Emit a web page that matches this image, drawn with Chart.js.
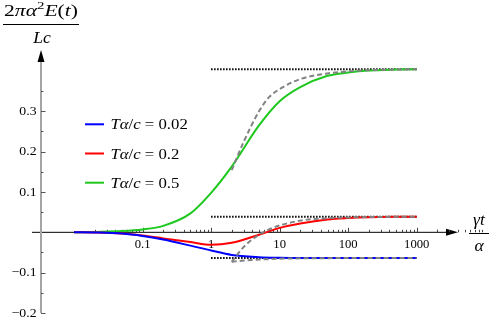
<!DOCTYPE html>
<html lang="en">
<head>
<meta charset="UTF-8">
<title>Energy vs time</title>
<script src="https://cdn.jsdelivr.net/npm/chart.js"></script>
<style>
  body { margin: 0; background: #fff; }
  canvas { display: block; }
</style>
</head>
<body>
<canvas id="energyChart" width="491" height="323"></canvas>
<script>
// gamma t / alpha sample points
const tValues = [0.01, 0.02, 0.05, 0.1, 0.2, 0.5, 1, 2, 5, 10, 20, 50, 100, 200, 500, 1000];
const energyLow  = [0, -0.0005, -0.003, -0.009, -0.018, -0.033, -0.045, -0.056, -0.0615, -0.063, -0.0635, -0.0635, -0.0635, -0.0635, -0.0635, -0.0635];
const energyMid  = [0, -0.0005, -0.003, -0.008, -0.015, -0.024, -0.031, -0.026, -0.006, 0.011, 0.022, 0.032, 0.0355, 0.0375, 0.0385, 0.0387];
const energyHigh = [0, 0.001, 0.003, 0.007, 0.016, 0.047, 0.098, 0.163, 0.265, 0.325, 0.36, 0.388, 0.396, 0.401, 0.4035, 0.4045];

// large time approximations (gray dashed), from t = 2
const tApprox = [2, 3, 5, 7, 10, 20, 50, 100, 200, 500, 1000];
const approxLow  = [-0.073, -0.07, -0.0675, -0.0665, -0.0655, -0.0645, -0.064, -0.0637, -0.0636, -0.0635, -0.0635];
const approxMid  = [-0.073, -0.036, -0.006, 0.007, 0.017, 0.029, 0.035, 0.0368, 0.0378, 0.0384, 0.0387];
const approxHigh = [0.154, 0.225, 0.3, 0.335, 0.355, 0.38, 0.394, 0.399, 0.402, 0.4035, 0.4045];

// limits (black dotted) from t = 1 to 1000
const tLimit = [1, 1000];
const limitLow = [-0.0635, -0.0635];
const limitMid = [0.0387, 0.0387];
const limitHigh = [0.4045, 0.4045];

const legendValues = ['0.02', '0.2', '0.5'];
const xTickLabels = ['0.1', '1', '10', '100', '1000'];
const yTickValues = [-0.2, -0.1, 0.1, 0.2, 0.3];
const yMinorTicks = [-0.15, -0.05, 0.05, 0.15, 0.25, 0.35];
const xRange = [0.0033, 4000];
const yRange = [-0.2, 0.452];

const colors = ['rgb(0,0,255)', 'rgb(255,0,0)', 'rgb(30,200,30)'];
const serif = '"Liberation Serif", "Times New Roman", serif';

function pairs(xs, ys) {
    return xs.map((x, i) => ({ x: x, y: ys[i] }));
}

function fontFor(style, size) {
    if (style === 'i') return 'italic ' + size + 'px ' + serif;
    if (style === 's') return Math.round(size * 0.7) + 'px ' + serif;
    return size + 'px ' + serif;
}

// parts: [text, 'n' | 'i' | 's'], opts.width fits the run, opts.stretch scales it
function drawMath(ctx, parts, x, y, size, align, opts) {
    opts = opts || {};
    ctx.save();
    let total = 0;
    const widths = parts.map(p => {
        ctx.font = fontFor(p[1], size);
        const w = ctx.measureText(p[0]).width;
        total += w;
        return w;
    });
    const sx = opts.width ? opts.width / total : (opts.stretch || 1);
    let start = x;
    if (align === 'center') start = x - total * sx / 2;
    if (align === 'right') start = x - total * sx;
    ctx.translate(start, y);
    ctx.scale(sx, 1);
    ctx.textAlign = 'left';
    ctx.textBaseline = opts.baseline || 'alphabetic';
    ctx.fillStyle = '#000';
    let cx = 0;
    parts.forEach((p, i) => {
        ctx.font = fontFor(p[1], size);
        ctx.fillText(p[0], cx, p[1] === 's' ? -size * 0.4 : 0);
        cx += widths[i];
    });
    ctx.restore();
}

const axesPlugin = {
    id: 'axesPlugin',
    beforeDatasetsDraw: (chart) => {
        const ctx = chart.ctx;
        const xs = chart.scales.x, ys = chart.scales.y;
        const x0 = chart.chartArea.left;
        const y0 = ys.getPixelForValue(0);
        const right = chart.chartArea.right;
        ctx.save();

        // x axis
        ctx.strokeStyle = '#000';
        ctx.lineWidth = 1;
        ctx.beginPath();
        ctx.moveTo(32, y0);
        ctx.lineTo(right - 8, y0);
        ctx.stroke();
        ctx.fillStyle = '#000';
        ctx.beginPath();
        ctx.moveTo(right, y0);
        ctx.lineTo(right - 12, y0 - 3.5);
        ctx.lineTo(right - 12, y0 + 3.5);
        ctx.closePath();
        ctx.fill();

        // x ticks, pointing up
        ctx.strokeStyle = '#444';
        for (let d = -2; d <= 3; d++) {
            for (let m = 2; m <= 9; m++) {
                const v = m * Math.pow(10, d);
                const px = Math.round(xs.getPixelForValue(v)) + 0.5;
                ctx.beginPath();
                ctx.moveTo(px, y0);
                ctx.lineTo(px, y0 - 2.5);
                ctx.stroke();
            }
        }
        const extra = Math.round(xs.getPixelForValue(2000)) + 0.5;
        ctx.beginPath();
        ctx.moveTo(extra, y0);
        ctx.lineTo(extra, y0 - 2.5);
        ctx.stroke();
        xTickLabels.forEach(t => {
            const px = Math.round(xs.getPixelForValue(parseFloat(t))) + 0.5;
            ctx.beginPath();
            ctx.moveTo(px, y0);
            ctx.lineTo(px, y0 - 4.5);
            ctx.stroke();
        });

        // y axis
        ctx.strokeStyle = 'rgb(165,165,165)';
        ctx.lineWidth = 2;
        ctx.beginPath();
        ctx.moveTo(x0, chart.chartArea.bottom);
        ctx.lineTo(x0, chart.chartArea.top + 8);
        ctx.stroke();
        ctx.fillStyle = '#000';
        ctx.beginPath();
        ctx.moveTo(x0, chart.chartArea.top);
        ctx.lineTo(x0 - 3.5, chart.chartArea.top + 12);
        ctx.lineTo(x0 + 3.5, chart.chartArea.top + 12);
        ctx.closePath();
        ctx.fill();

        ctx.strokeStyle = '#555';
        ctx.lineWidth = 1;
        yTickValues.forEach(v => {
            const py = Math.round(ys.getPixelForValue(v)) + 0.5;
            ctx.beginPath();
            ctx.moveTo(x0, py);
            ctx.lineTo(x0 + 4.5, py);
            ctx.stroke();
        });
        yMinorTicks.forEach(v => {
            const py = Math.round(ys.getPixelForValue(v)) + 0.5;
            ctx.beginPath();
            ctx.moveTo(x0, py);
            ctx.lineTo(x0 + 2.5, py);
            ctx.stroke();
        });
        ctx.restore();

        // tick labels
        xTickLabels.forEach(t => {
            drawMath(ctx, [[t, 'n']], xs.getPixelForValue(parseFloat(t)), y0 + 12.5, 11.5, 'center', { stretch: 1.1, baseline: 'middle' });
        });
        yTickValues.forEach(v => {
            const txt = (v < 0 ? '\u2212' : '') + Math.abs(v).toFixed(1);
            drawMath(ctx, [[txt, 'n']], x0 - 4.5, ys.getPixelForValue(v) + 0.5, 12.5, 'right', { stretch: 1.1, baseline: 'middle' });
        });
    },
    afterDraw: (chart) => {
        const ctx = chart.ctx;
        // y axis label
        drawMath(ctx, [['2', 'n'], ['\u03c0', 'i'], ['\u03b1', 'i'], ['2', 's'], ['E', 'i'], ['(', 'n'], ['t', 'i'], [')', 'n']], 41, 15.5, 16, 'center', { width: 74 });
        ctx.fillRect(3, 24, 76, 1);
        drawMath(ctx, [['L', 'i'], ['c', 'i']], 42, 43, 16, 'center', { stretch: 1.1 });
        // x axis label
        drawMath(ctx, [['\u03b3', 'i'], ['t', 'i']], 479, 225, 16, 'center', { stretch: 1.1 });
        ctx.fillRect(469, 233, 20, 1);
        drawMath(ctx, [['\u03b1', 'i']], 479, 251, 16, 'center', { stretch: 1.1 });

        // legend
        legendValues.forEach((val, i) => {
            const y = 124.3 + i * 29.2;
            ctx.save();
            ctx.strokeStyle = colors[i];
            ctx.lineWidth = 2;
            ctx.beginPath();
            ctx.moveTo(85, y);
            ctx.lineTo(104, y);
            ctx.stroke();
            ctx.restore();
            drawMath(ctx, [['T', 'i'], ['\u03b1', 'i'], ['/', 'n'], ['c', 'i'], [' = ', 'n'], [val, 'n']], 110.5, y + 5, 15.5, 'left', { stretch: 1.08 });
        });
    }
};

const solid = (ys, i) => ({
    data: pairs(tValues, ys),
    borderColor: colors[i],
    borderWidth: 2,
    cubicInterpolationMode: 'monotone',
    order: 2
});
const dashed = (ys) => ({
    data: pairs(tApprox, ys),
    borderColor: 'rgb(130,130,130)',
    borderWidth: 2,
    borderDash: [5, 3],
    cubicInterpolationMode: 'monotone',
    order: 1
});
const dotted = (ys) => ({
    data: pairs(tLimit, ys),
    borderColor: '#000',
    borderWidth: 2,
    borderDash: [1.5, 1.5],
    order: 3
});

new Chart(document.getElementById('energyChart').getContext('2d'), {
    type: 'line',
    data: {
        datasets: [
            dotted(limitLow), dotted(limitMid), dotted(limitHigh),
            solid(energyLow, 0), solid(energyMid, 1), solid(energyHigh, 2),
            dashed(approxLow), dashed(approxMid), dashed(approxHigh)
        ]
    },
    options: {
        responsive: false,
        animation: false,
        events: [],
        layout: { padding: { left: 41, right: 33, top: 50, bottom: 10 } },
        elements: { point: { radius: 0 } },
        scales: {
            x: { type: 'logarithmic', min: xRange[0], max: xRange[1], display: false },
            y: { type: 'linear', min: yRange[0], max: yRange[1], display: false }
        },
        plugins: { legend: { display: false }, tooltip: { enabled: false } }
    },
    plugins: [axesPlugin]
});
</script>
</body>
</html>
